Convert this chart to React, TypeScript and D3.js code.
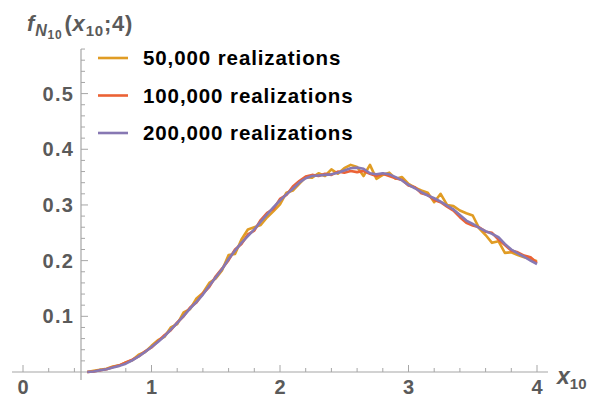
import * as d3 from 'd3';

// sample positions x10 = 0.5 ... 4.0 in steps of 0.05
const xs = d3.range(0, 71).map((i) => +(0.5 + i * 0.05).toFixed(2));

const series50k = [
  0.000, 0.002, 0.004, 0.006, 0.010, 0.012, 0.017, 0.021, 0.031, 0.036,
  0.047, 0.057, 0.063, 0.080, 0.086, 0.107, 0.113, 0.132, 0.142, 0.160,
  0.168, 0.183, 0.210, 0.212, 0.238, 0.256, 0.260, 0.264, 0.278, 0.289,
  0.301, 0.322, 0.326, 0.338, 0.350, 0.349, 0.357, 0.352, 0.364, 0.356,
  0.366, 0.372, 0.368, 0.352, 0.372, 0.347, 0.354, 0.358, 0.347, 0.350,
  0.338, 0.331, 0.326, 0.322, 0.305, 0.320, 0.300, 0.298, 0.290, 0.285,
  0.281, 0.258, 0.246, 0.232, 0.235, 0.214, 0.215, 0.210, 0.206, 0.203,
  0.199,
];

const series100k = [
  0.000, 0.001, 0.003, 0.005, 0.009, 0.012, 0.017, 0.022, 0.028, 0.037,
  0.044, 0.055, 0.066, 0.075, 0.089, 0.100, 0.116, 0.125, 0.141, 0.153,
  0.172, 0.186, 0.201, 0.220, 0.230, 0.247, 0.254, 0.273, 0.286, 0.293,
  0.311, 0.318, 0.333, 0.343, 0.351, 0.354, 0.352, 0.356, 0.354, 0.360,
  0.358, 0.361, 0.359, 0.361, 0.356, 0.352, 0.356, 0.352, 0.348, 0.345,
  0.335, 0.332, 0.321, 0.318, 0.309, 0.305, 0.297, 0.290, 0.278, 0.268,
  0.263, 0.260, 0.252, 0.250, 0.238, 0.228, 0.218, 0.215, 0.209, 0.206,
  0.196,
];

const series200k = [
  0.000, 0.001, 0.003, 0.005, 0.008, 0.011, 0.015, 0.021, 0.028, 0.036,
  0.045, 0.054, 0.064, 0.076, 0.088, 0.101, 0.114, 0.126, 0.139, 0.155,
  0.170, 0.185, 0.203, 0.218, 0.232, 0.244, 0.256, 0.270, 0.283, 0.296,
  0.308, 0.319, 0.329, 0.340, 0.348, 0.352, 0.353, 0.354, 0.355, 0.358,
  0.362, 0.366, 0.367, 0.365, 0.357, 0.355, 0.357, 0.355, 0.350, 0.344,
  0.336, 0.330, 0.323, 0.317, 0.312, 0.306, 0.299, 0.292, 0.282, 0.272,
  0.266, 0.259, 0.253, 0.248, 0.242, 0.230, 0.220, 0.213, 0.207, 0.200,
  0.194,
];

const seriesNames = ['50,000 realizations', '100,000 realizations', '200,000 realizations'];
const seriesColors = ['#E09C24', '#EB6235', '#8778B3'];

const xTicks = [0, 1, 2, 3, 4];
const yTicks = [0.1, 0.2, 0.3, 0.4, 0.5];

const W = 591;
const H = 401;

export default function App() {
  const x = d3.scaleLinear().domain([0, 4]).range([23, 537]);
  const y = d3.scaleLinear().domain([0, 0.5]).range([372, 93.6]);

  const yAxisX = 81;
  const axisColor = '#a6a6a6';
  const labelColor = '#5a5a5a';

  const line = d3
    .line<number>()
    .x((_, i) => x(xs[i]))
    .y((d) => y(d));

  const allSeries = [series50k, series100k, series200k];

  const xMinor = d3.range(0, 4.01, 0.2).filter((v) => Math.abs(v - Math.round(v)) > 1e-6);
  const yMinor = d3.range(0.02, 0.581, 0.02).filter((v) => Math.abs(v * 10 - Math.round(v * 10)) > 1e-6);

  return (
    <svg
      width={W}
      height={H}
      style={{ position: 'absolute', left: 0, top: 0, background: '#fff' }}
      fontFamily="'Liberation Sans', Arial, sans-serif"
    >
      {/* x axis */}
      <line x1={12} x2={548} y1={y(0)} y2={y(0)} stroke={axisColor} strokeWidth={1.2} />
      {xTicks.map((t) => (
        <line key={'xt' + t} x1={x(t)} x2={x(t)} y1={y(0)} y2={y(0) - 7} stroke={axisColor} strokeWidth={1} />
      ))}
      {xMinor.map((t) => (
        <line key={'xm' + t} x1={x(t)} x2={x(t)} y1={y(0)} y2={y(0) - 4} stroke={axisColor} strokeWidth={1} />
      ))}
      {xTicks.map((t) => (
        <text
          key={'xl' + t}
          x={x(t)}
          y={y(0) + 22}
          textAnchor="middle"
          fontSize={20}
          fontWeight="bold"
          fill={labelColor}
        >
          {t}
        </text>
      ))}

      {/* y axis */}
      <line x1={yAxisX} x2={yAxisX} y1={49} y2={380} stroke={axisColor} strokeWidth={1.2} />
      {yTicks.map((t) => (
        <line key={'yt' + t} x1={yAxisX} x2={yAxisX + 7} y1={y(t)} y2={y(t)} stroke={axisColor} strokeWidth={1} />
      ))}
      {yMinor.map((t) => (
        <line key={'ym' + t} x1={yAxisX} x2={yAxisX + 4} y1={y(t)} y2={y(t)} stroke={axisColor} strokeWidth={1} />
      ))}
      {yTicks.map((t) => (
        <text
          key={'yl' + t}
          x={yAxisX - 7}
          y={y(t) + 7}
          textAnchor="end"
          fontSize={20}
          fontWeight="bold"
          letterSpacing={1.2}
          fill={labelColor}
        >
          {t.toFixed(1)}
        </text>
      ))}

      {/* curves */}
      {allSeries.map((s, i) => (
        <path
          key={'s' + i}
          d={line(s) || ''}
          fill="none"
          stroke={seriesColors[i]}
          strokeWidth={2.6}
          strokeLinejoin="round"
        />
      ))}

      {/* legend */}
      {seriesNames.map((name, i) => (
        <g key={'lg' + i} transform={`translate(98,${58 + i * 37.5})`}>
          <line x1={0} x2={30} y1={0} y2={0} stroke={seriesColors[i]} strokeWidth={2.6} />
          <text x={45} y={7} fontSize={20.5} fontWeight="bold" letterSpacing={0.9} fill="#000">
            {name}
          </text>
        </g>
      ))}

      {/* axis labels */}
      <text x={27} y={31} fontSize={22} fontWeight="bold" letterSpacing={0.8} fill={labelColor}>
        <tspan fontStyle="italic">f</tspan>
        <tspan fontStyle="italic" fontSize={16} dy={5}>N</tspan>
        <tspan fontSize={12} dy={3}>10</tspan>
        <tspan dy={-8} dx={2}>(</tspan>
        <tspan fontStyle="italic">x</tspan>
        <tspan fontSize={15} dy={5}>10</tspan>
        <tspan dy={-5}>;4)</tspan>
      </text>
      <text x={557} y={384} fontSize={23} fontWeight="bold" fill={labelColor}>
        <tspan fontStyle="italic">x</tspan>
        <tspan fontSize={15} dy={5}>10</tspan>
      </text>
    </svg>
  );
}
